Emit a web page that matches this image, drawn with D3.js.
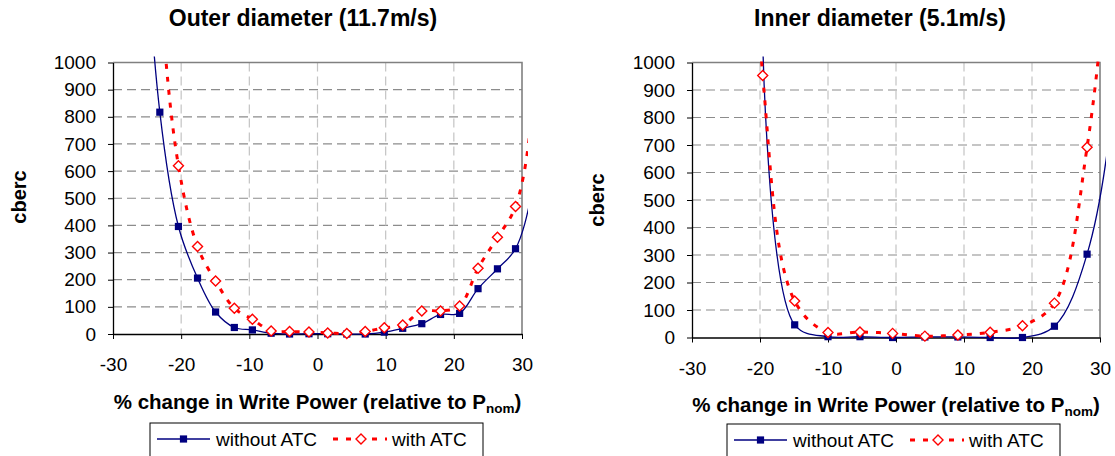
<!DOCTYPE html>
<html><head><meta charset="utf-8">
<script src="https://cdn.jsdelivr.net/npm/d3@7"></script>
<style>
body{margin:0;background:#fff}
svg{display:block}
text{font-family:"Liberation Sans",Arial,Helvetica,sans-serif;fill:#000}
</style>
</head><body>
<svg id="chart" width="1115" height="456"></svg>
<script>
// ---------- data ----------
const titles = ["Outer diameter (11.7m/s)", "Inner diameter (5.1m/s)"];
const seriesNames = ["without ATC", "with ATC"];
const yLabel = "cberc";
const xTitleMain = "% change in Write Power (relative to P";
const xTitleSub = "nom";
const xTicks = [-30, -20, -10, 0, 10, 20, 30];
const yTicks = [0, 100, 200, 300, 400, 500, 600, 700, 800, 900, 1000];

// Outer diameter (11.7 m/s)
const outerX       = [-28.6, -25.88, -23.13, -20.4, -17.6, -14.95, -12.2, -9.55, -6.8, -4.1, -1.25, 1.5, 4.3, 7.0, 9.8, 12.5, 15.3, 18.05, 20.85, 23.55, 26.4, 29.05, 31.8, 34.55];
const outerWithout = [4300, 1800, 817, 396, 206, 81, 24, 15, 3, 0, 1, 1, 0, 0, 7, 21, 38, 72, 76, 167, 240, 314, 560, 1000];
const outerWith    = [null, 3100, 1300, 620, 322, 195, 95, 54, 11, 9, 7, 4, 2, 9, 23, 33, 85, 85, 103, 242, 356, 470, 890, 2600];

// Inner diameter (5.1 m/s)
const innerX       = [-24.4, -19.6, -14.9, -10.0, -5.3, -0.5, 4.25, 9.1, 13.85, 18.6, 23.3, 28.1, 32.9, 37.7];
const innerWithout = [null, 1080, 46, 3, 3, 0, 2, 2, 0, 0, 41, 303, 1080, 3600];
const innerWith    = [4500, 953, 133, 18, 20, 15, 5, 9, 19, 43, 125, 692, 2000, 5400];

// ---------- layout ----------
const panels = [
  {title: titles[0], xs: outerX, a: outerWithout, b: outerWith,
   left: 113, right: 522, top: 62.5, bottom: 334, titleX: 303,
   ylabX: 25.5, ylabY: 197, xtitleY: 409, legend: {x: 150, y: 423, w: 333}},
  {title: titles[1], xs: innerX, a: innerWithout, b: innerWith,
   left: 692, right: 1100, top: 62.5, bottom: 337.5, titleX: 880,
   ylabX: 604, ylabY: 200, xtitleY: 411.5, legend: {x: 727, y: 424, w: 333}}
];

const BLUE = "#000080", RED = "#FF0000";
const svg = d3.select("#chart");

function diamondPath(cx, cy, r) {
  return `M${cx},${cy - r}L${cx + r},${cy}L${cx},${cy + r}L${cx - r},${cy}Z`;
}

panels.forEach((p, i) => {
  const g = svg.append("g");
  const x = d3.scaleLinear().domain([-30, 30]).range([p.left, p.right]);
  const y = d3.scaleLinear().domain([0, 1000]).range([p.bottom, p.top]);

  // title
  g.append("text").attr("x", p.titleX).attr("y", 26)
    .attr("text-anchor", "middle").style("font-size", "23px").style("font-weight", "bold")
    .text(p.title);

  // gridlines
  g.append("g").selectAll("line").data(yTicks.filter(v => v > 0 && v < 1000)).join("line")
    .attr("x1", p.left).attr("x2", p.right)
    .attr("y1", d => y(d)).attr("y2", d => y(d))
    .attr("stroke", "#8c8c8c").attr("stroke-width", 1.2).attr("stroke-dasharray", "9,5");
  g.append("g").selectAll("line").data(xTicks.filter(v => v > -30 && v < 30)).join("line")
    .attr("x1", d => x(d)).attr("x2", d => x(d))
    .attr("y1", p.top).attr("y2", p.bottom)
    .attr("stroke", "#c4c4c4").attr("stroke-width", 1.2).attr("stroke-dasharray", "9,5");

  // top & right border
  g.append("path")
    .attr("d", `M${p.left},${p.top}H${p.right}V${p.bottom}`)
    .attr("fill", "none").attr("stroke", "#808080").attr("stroke-width", 1.6);

  // axes
  const fmt = d => String(d);
  const ya = g.append("g").attr("transform", `translate(${p.left},0)`)
    .call(d3.axisLeft(y).tickValues(yTicks).tickSize(5).tickSizeOuter(0).tickPadding(12).tickFormat(fmt));
  const xa = g.append("g").attr("transform", `translate(0,${p.bottom})`)
    .call(d3.axisBottom(x).tickValues(xTicks).tickSize(5).tickSizeOuter(0).tickPadding(19).tickFormat(fmt));
  [ya, xa].forEach(a => {
    a.selectAll("text").style("font-size", "19px").attr("fill", "#000");
    a.selectAll("line").attr("stroke", "#000");
    a.select(".domain").attr("stroke", "#000").attr("stroke-width", 1.3);
  });

  // axis titles
  g.append("text").attr("transform", `translate(${p.ylabX},${p.ylabY}) rotate(-90)`)
    .attr("text-anchor", "middle").style("font-size", "20px").style("font-weight", "bold").text(yLabel);
  const xt = g.append("text").attr("x", (p.left + p.right) / 2).attr("y", p.xtitleY)
    .attr("text-anchor", "middle").style("font-size", "20.5px").style("font-weight", "bold");
  xt.append("tspan").text(xTitleMain);
  xt.append("tspan").attr("dy", 4).style("font-size", "13.5px").text(xTitleSub);
  xt.append("tspan").attr("dy", -4).text(")");

  // clip
  const cid = "clip" + i;
  svg.append("clipPath").attr("id", cid).append("rect")
    .attr("x", p.left - 6).attr("y", p.top - 6)
    .attr("width", p.right - p.left + 12).attr("height", p.bottom - p.top + 12);
  const plot = g.append("g").attr("clip-path", `url(#${cid})`);

  const line = d3.line().x(d => x(d[0])).y(d => y(d[1])).curve(d3.curveCatmullRom.alpha(0.5));
  const ptsA = p.xs.map((v, k) => [v, p.a[k]]).filter(d => d[1] != null);
  const ptsB = p.xs.map((v, k) => [v, p.b[k]]).filter(d => d[1] != null);
  const inside = d => d[0] >= -30 && d[0] <= 30 && d[1] >= 0 && d[1] <= 1000;

  plot.append("path").attr("d", line(ptsA)).attr("fill", "none")
    .attr("stroke", BLUE).attr("stroke-width", 1.3);
  plot.selectAll("rect.m").data(ptsA.filter(inside)).join("rect").attr("class", "m")
    .attr("x", d => x(d[0]) - 3.6).attr("y", d => y(d[1]) - 3.6)
    .attr("width", 7.2).attr("height", 7.2).attr("fill", BLUE);

  plot.append("path").attr("d", line(ptsB)).attr("fill", "none")
    .attr("stroke", RED).attr("stroke-width", 3).attr("stroke-dasharray", "5,8");
  plot.selectAll("path.d").data(ptsB.filter(inside)).join("path").attr("class", "d")
    .attr("d", d => diamondPath(x(d[0]), y(d[1]), 5))
    .attr("fill", "#fff").attr("stroke", RED).attr("stroke-width", 1.4);

  // legend
  const L = p.legend;
  const lg = g.append("g");
  lg.append("rect").attr("x", L.x).attr("y", L.y).attr("width", L.w).attr("height", 40)
    .attr("fill", "#fff").attr("stroke", "#000").attr("stroke-width", 1);
  const cy = L.y + 16;
  lg.append("line").attr("x1", L.x + 7).attr("x2", L.x + 60).attr("y1", cy).attr("y2", cy)
    .attr("stroke", BLUE).attr("stroke-width", 1.3);
  lg.append("rect").attr("x", L.x + 33.5 - 3.6).attr("y", cy - 3.6).attr("width", 7.2).attr("height", 7.2).attr("fill", BLUE);
  lg.append("text").attr("x", L.x + 66).attr("y", cy + 6.5).style("font-size", "19px").text(seriesNames[0]);
  lg.append("line").attr("x1", L.x + 183).attr("x2", L.x + 237).attr("y1", cy).attr("y2", cy)
    .attr("stroke", RED).attr("stroke-width", 3).attr("stroke-dasharray", "5,8");
  lg.append("path").attr("d", diamondPath(L.x + 211, cy, 5)).attr("fill", "#fff").attr("stroke", RED).attr("stroke-width", 1.4);
  lg.append("text").attr("x", L.x + 242).attr("y", cy + 6.5).style("font-size", "19px").text(seriesNames[1]);
});
</script>
</body></html>
